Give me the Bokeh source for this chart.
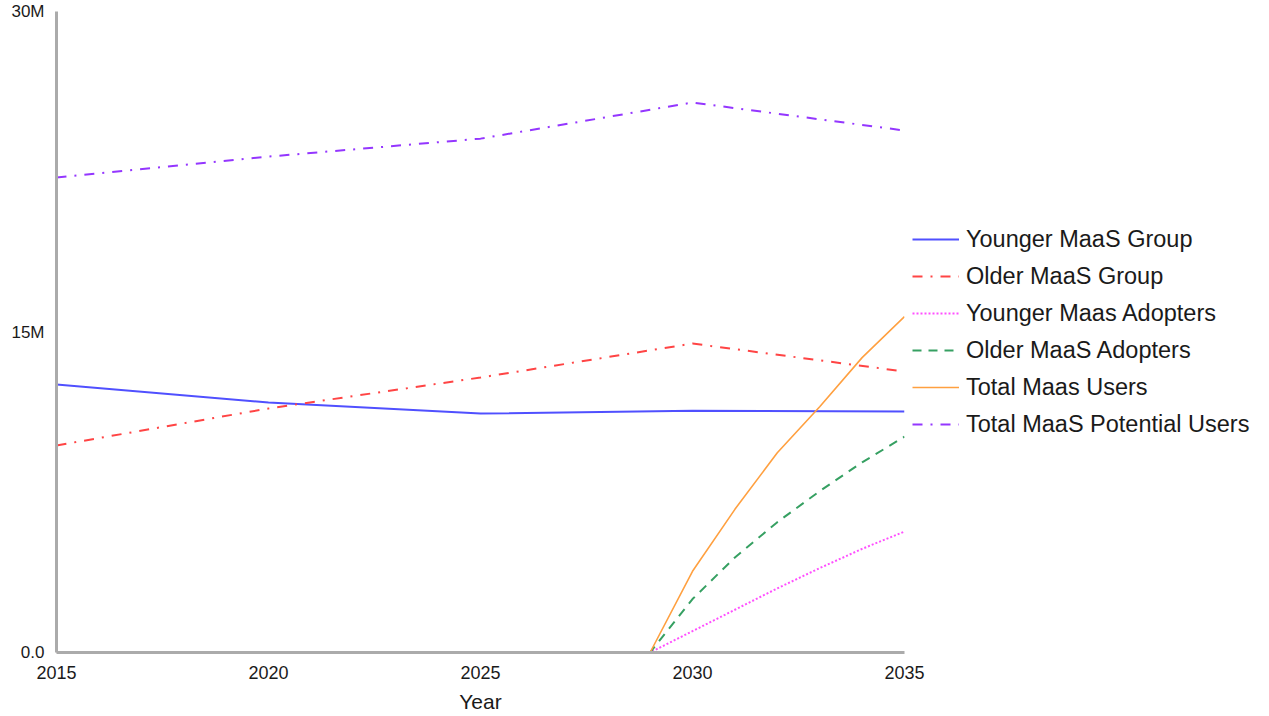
from bokeh.plotting import figure
from bokeh.models import Range1d, FixedTicker, CustomJSTickFormatter, Legend, LegendItem
from bokeh.embed import file_html
from bokeh.resources import INLINE

# ---- data ----
group_years = [2015, 2020, 2025, 2030, 2035]
younger_group = [12.54e6, 11.70e6, 11.18e6, 11.32e6, 11.28e6]
older_group = [9.69e6, 11.42e6, 12.87e6, 14.46e6, 13.15e6]
potential_users = [22.23e6, 23.21e6, 24.05e6, 25.74e6, 24.43e6]

adopt_years = [2015, 2029, 2030, 2031, 2032, 2033, 2034, 2035]
younger_adopters = [0, 0, 1.0e6, 2.0e6, 3.0e6, 3.95e6, 4.85e6, 5.66e6]
older_adopters = [0, 0, 2.5e6, 4.45e6, 6.1e6, 7.55e6, 8.9e6, 10.1e6]
total_users = [0, 0, 3.8e6, 6.7e6, 9.35e6, 11.5e6, 13.8e6, 15.72e6]

x_ticks = [2015, 2020, 2025, 2030, 2035]
y_ticks = [0, 15e6, 30e6]
y_tick_labels = ["0.0", "15M", "30M"]

FONT = "Liberation Sans"

p = figure(output_backend="svg", toolbar_location=None,
           x_range=Range1d(2015, 2035), y_range=Range1d(0, 30e6),
           frame_width=848, frame_height=641,
           min_border_left=56, min_border_top=11, min_border_right=0, min_border_bottom=0)
p.outline_line_color = None
p.xgrid.visible = False
p.ygrid.visible = False
p.background_fill_color = "white"
p.border_fill_color = "white"

specs = [
    ("Younger MaaS Group", group_years, younger_group, "#5050ff", "solid", 2),
    ("Older MaaS Group", group_years, older_group, "#ff4444", "10 8 2 8", 2),
    ("Younger Maas Adopters", adopt_years, younger_adopters, "#ff50ff", "2 2", 2),
    ("Older MaaS Adopters", adopt_years, older_adopters, "#36a062", "9 7", 2),
    ("Total Maas Users", adopt_years, total_users, "#ffa040", "solid", 1.6),
    ("Total MaaS Potential Users", group_years, potential_users, "#9436ff", "10 8 2 8", 2),
]
items = []
for name, xs, ys, col, dash, lw in specs:
    r = p.line(xs, ys, line_color=col, line_dash=dash, line_width=lw)
    items.append(LegendItem(label=name, renderers=[r]))

for ax in (p.xaxis[0], p.yaxis[0]):
    ax.axis_line_color = "#ababab"
    ax.axis_line_width = 3
    ax.major_tick_line_color = None
    ax.minor_tick_line_color = None
    ax.major_label_text_font = FONT
    ax.major_label_text_color = "#1a1a1a"

p.xaxis.major_label_text_font_size = "18px"
p.yaxis.major_label_text_font_size = "17px"

p.xaxis.ticker = FixedTicker(ticks=x_ticks)
p.xaxis.major_label_standoff = 7
p.xaxis.axis_label = "Year"
p.xaxis.axis_label_text_font = FONT
p.xaxis.axis_label_text_font_size = "21px"
p.xaxis.axis_label_text_font_style = "normal"
p.xaxis.axis_label_text_color = "#1a1a1a"
p.xaxis.axis_label_standoff = 8

p.yaxis.ticker = FixedTicker(ticks=y_ticks)
p.yaxis.formatter = CustomJSTickFormatter(
    args=dict(tvals=y_ticks, tlabs=y_tick_labels),
    code="const i = tvals.indexOf(tick); return i >= 0 ? tlabs[i] : '';")
p.yaxis.major_label_standoff = 6

legend = Legend(items=items, location="center_left", orientation="vertical")
legend.border_line_color = None
legend.background_fill_alpha = 0
legend.label_text_font = FONT
legend.label_text_font_size = "23.5px"
legend.label_text_color = "#1a1a1a"
legend.glyph_width = 47
legend.glyph_height = 22
legend.label_standoff = 7
legend.spacing = 10
legend.padding = 0
legend.margin = 8
p.add_layout(legend, "right")

open("out.html", "w").write(file_html(p, INLINE))
